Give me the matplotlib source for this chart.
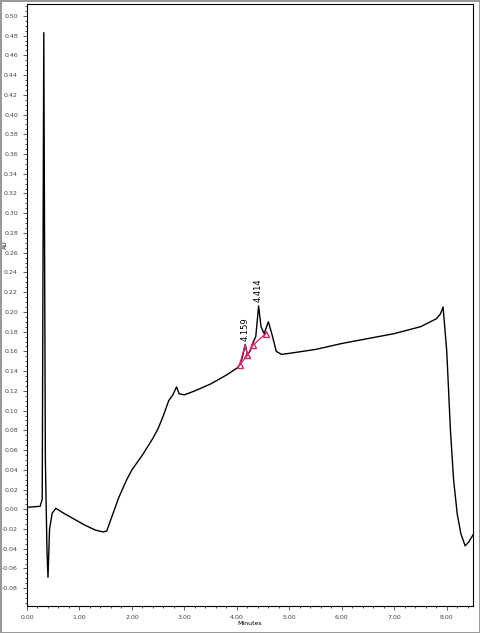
import matplotlib
matplotlib.use("Agg")
import matplotlib.pyplot as plt
from matplotlib.ticker import MultipleLocator, FormatStrFormatter

minutes = [0.0, 0.25, 0.29, 0.32, 0.35, 0.38, 0.40, 0.43, 0.48, 0.55, 0.7, 0.9, 1.1, 1.3, 1.45, 1.52,
           1.6, 1.75, 1.9, 2.0, 2.2, 2.4, 2.5, 2.6, 2.7, 2.78, 2.85, 2.9, 3.0, 3.2, 3.5, 3.8, 4.0, 4.05,
           4.1, 4.159, 4.2, 4.25, 4.3, 4.36, 4.414, 4.46, 4.52, 4.6, 4.68, 4.75, 4.85, 5.0, 5.5, 6.0,
           6.5, 7.0, 7.5, 7.8, 7.88, 7.93, 8.0, 8.07, 8.13, 8.2, 8.27, 8.35, 8.42, 8.5]
au = [0.002, 0.003, 0.01, 0.483, 0.05, -0.04, -0.069, -0.02, -0.004, 0.001, -0.004, -0.01, -0.016, -0.021, -0.023, -0.022,
      -0.01, 0.012, 0.03, 0.04, 0.055, 0.072, 0.082, 0.095, 0.11, 0.116, 0.124, 0.117, 0.116, 0.12, 0.127, 0.136, 0.143, 0.146,
      0.153, 0.167, 0.157, 0.16, 0.168, 0.175, 0.206, 0.185, 0.178, 0.19, 0.175, 0.16, 0.157, 0.158, 0.162, 0.168,
      0.173, 0.178, 0.185, 0.193, 0.198, 0.205, 0.16, 0.08, 0.03, -0.005, -0.025, -0.037, -0.033, -0.026]

peak_rt = [4.159, 4.414]
peak_au = [0.167, 0.206]
base_x = [4.05, 4.2, 4.3, 4.55]
base_y = [0.146, 0.156, 0.166, 0.178]

fig = plt.figure(figsize=(4.8, 6.33), dpi=100)
fig.patch.set_edgecolor("#999999")
fig.patch.set_linewidth(2)
ax = fig.add_axes([27/480, 27/633, 446/480, 602/633])
ax.plot(minutes, au, color="black", lw=1.0)
ax.plot([base_x[0], peak_rt[0], base_x[1]], [base_y[0], peak_au[0], base_y[1]], color="#e0206a", lw=0.9)
ax.plot(base_x, base_y, color="#e0206a", lw=0.9)
ax.plot(base_x, base_y, ls="none", marker="^", mfc="none", mec="#e0206a", ms=5)
for rt, a in zip(peak_rt, peak_au):
    ax.text(rt, a + 0.004, f"{rt:.3f}", rotation=90, ha="center", va="bottom", fontsize=6)

ax.set_xlim(0, 8.5)
ax.set_ylim(-0.098, 0.512)
ax.xaxis.set_major_locator(MultipleLocator(1.0))
ax.xaxis.set_minor_locator(MultipleLocator(0.2))
ax.yaxis.set_major_locator(MultipleLocator(0.02))
ax.yaxis.set_minor_locator(MultipleLocator(0.005))
ax.xaxis.set_major_formatter(FormatStrFormatter("%.2f"))
ax.yaxis.set_major_formatter(FormatStrFormatter("%.2f"))
ax.tick_params(labelsize=4.5, length=3, width=0.6, colors="#444444")
ax.tick_params(which="minor", length=1.5, width=0.5)
ax.set_xlabel("Minutes", fontsize=4.5, labelpad=1)
ax.text(-0.048, 0.6, "AU", rotation=90, transform=ax.transAxes, fontsize=4.5, ha="center", va="center")
for s in ax.spines.values():
    s.set_linewidth(0.8)
fig.savefig("out.png", dpi=100, edgecolor=fig.get_edgecolor())
